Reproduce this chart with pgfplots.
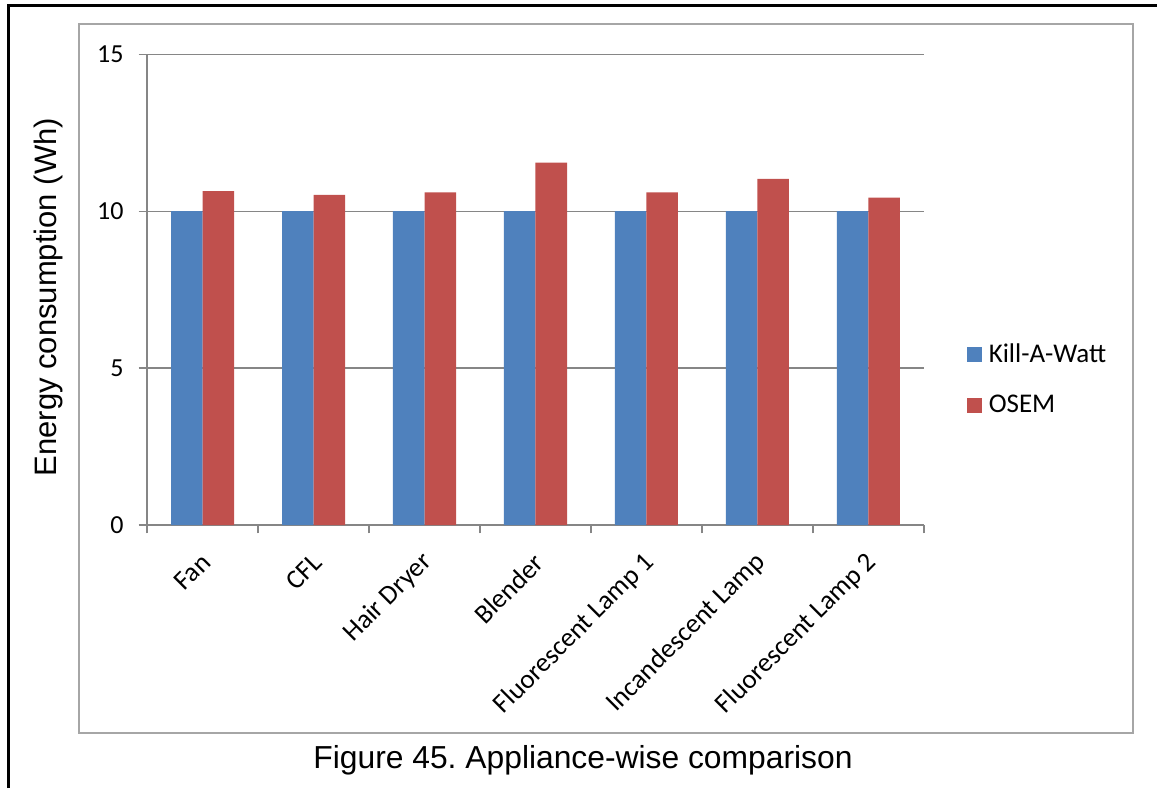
\documentclass[border=0pt]{standalone}
\usepackage{pgfplots}
\pgfplotsset{compat=1.18}
\usepackage{fontspec}
\setmainfont{Carlito}
\newfontfamily\arial{Liberation Sans}
\definecolor{kawblue}{HTML}{4F81BD}
\definecolor{osemred}{HTML}{C0504D}
\definecolor{axisgray}{HTML}{868686}
\definecolor{boxgray}{HTML}{A6A6A6}
\begin{document}
\frenchspacing
\begin{tikzpicture}[x=0.5pt,y=-0.5pt]
\useasboundingbox (0,0) rectangle (1157,788);
\draw[black, line width=1.5pt] (8,788) -- (8,5) -- (1157,5);
\draw[boxgray, line width=1pt] (79,24) rectangle (1133,733);
\begin{axis}[
  at={(73.5pt,-262.5pt)}, anchor=south west,
  scale only axis, width=388.5pt, height=235.35pt,
  xmin=0.5, xmax=7.5, ymin=0, ymax=15,
  ybar=0pt, bar width=15.75pt,
  axis lines*=left,
  axis line style={draw=axisgray, line width=0.7pt},
  ytick={0,5,10,15},
  ymajorgrids, grid style={draw=axisgray, line width=0.7pt},
  xtick={0.5,1.5,...,7.5}, xticklabels={},
  extra x ticks={1,2,3,4,5,6,7},
  extra x tick labels={Fan,CFL,Hair Dryer,Blender,Fluorescent Lamp 1,Incandescent Lamp,Fluorescent Lamp 2},
  extra x tick style={major tick length=0pt, grid=none},
  xticklabel style={rotate=45, anchor=east, xshift=-7pt, yshift=-13pt, font=\fontsize{13.5pt}{15pt}\selectfont},
  yticklabel style={xshift=-4pt, font=\fontsize{13pt}{15pt}\selectfont},
  /pgf/number format/assume math mode=true,
  tick align=outside,
  major tick length=4.2pt,
  tick style={draw=axisgray, line width=0.7pt},
  ylabel={Energy consumption (Wh)},
  ylabel style={at={(axis description cs:-0.127,0.484)}, anchor=center, font=\arial\fontsize{15.5pt}{18pt}\selectfont},
  legend style={at={(rel axis cs:1.0553,0.309)}, anchor=west, draw=none, fill=none, inner sep=0pt, row sep=11pt, font=\fontsize{13.5pt}{15pt}\selectfont,
    nodes={inner xsep=3.5pt}},
  legend cell align=left,
  legend image code/.code={\fill[#1] (0pt,-3.6pt) rectangle (7.2pt,3.6pt);},
]
\addplot[fill=kawblue, draw=none] coordinates {(1,10) (2,10) (3,10) (4,10) (5,10) (6,10) (7,10)};
\addplot[fill=osemred, draw=none] coordinates {(1,10.64) (2,10.52) (3,10.60) (4,11.55) (5,10.60) (6,11.03) (7,10.43)};
\legend{Kill-A-Watt,OSEM}
\end{axis}
\node[font=\arial\fontsize{15.9pt}{18pt}\selectfont, anchor=base] at (583,768) {Figure 45. Appliance-wise comparison};
\end{tikzpicture}
\end{document}
